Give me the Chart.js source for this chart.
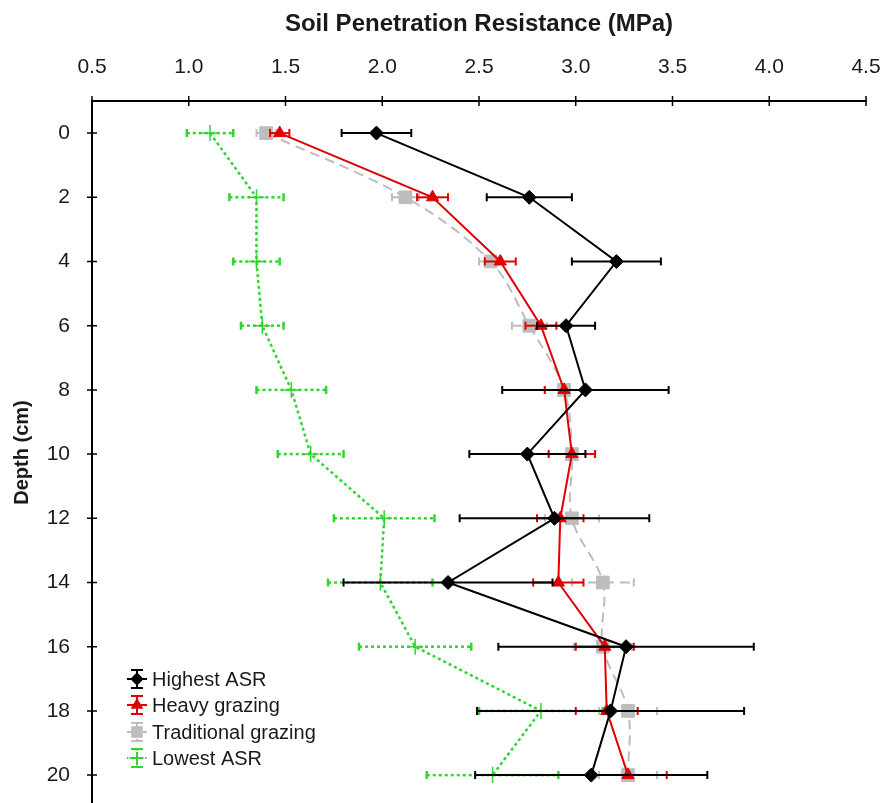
<!DOCTYPE html>
<html>
<head>
<meta charset="utf-8">
<script src="https://cdn.jsdelivr.net/npm/chart.js@4.4.1/dist/chart.umd.min.js"></script>
<style>
  html, body { margin: 0; padding: 0; background: #fff; overflow: hidden; height: 803px; }
  #chart { display: block; }
</style>
</head>
<body>
<canvas id="chart" width="883" height="814"></canvas>
<script>
// depth (cm) for every row
const depths = [0, 2, 4, 6, 8, 10, 12, 14, 16, 18, 20];
const xTicks = [0.5, 1.0, 1.5, 2.0, 2.5, 3.0, 3.5, 4.0, 4.5];

const seriesNames = ['Highest ASR', 'Heavy grazing', 'Traditional grazing', 'Lowest ASR'];

// soil penetration resistance (MPa) and its error
const highestASR = [1.97, 2.76, 3.21, 2.95, 3.05, 2.75, 2.89, 2.34, 3.26, 3.18, 3.08];
const highestErr = [0.18, 0.22, 0.23, 0.15, 0.43, 0.30, 0.49, 0.54, 0.66, 0.69, 0.60];
const heavyGrazing = [1.47, 2.26, 2.61, 2.82, 2.94, 2.98, 2.92, 2.91, 3.15, 3.16, 3.27];
const heavyErr = [0.05, 0.08, 0.08, 0.08, 0.10, 0.12, 0.12, 0.13, 0.15, 0.16, 0.20];
const traditionalGrazing = [1.40, 2.12, 2.56, 2.76, 2.94, 2.98, 2.98, 3.14, 3.14, 3.27, 3.27];
const traditionalErr = [0.05, 0.07, 0.06, 0.09, 0.10, 0.12, 0.14, 0.16, 0.15, 0.15, 0.15];
const lowestASR = [1.11, 1.35, 1.35, 1.38, 1.53, 1.63, 2.01, 1.99, 2.17, 2.82, 2.57];
const lowestErr = [0.12, 0.14, 0.12, 0.11, 0.18, 0.17, 0.26, 0.27, 0.29, 0.32, 0.34];

const styles = [
    { color: '#000000', dash: [], point: 'rectRot', radius: 7, width: 2, tension: 0 },
    { color: '#e00000', dash: [], point: 'triangle', radius: 7, width: 2, tension: 0 },
    { color: '#bdbdbd', dash: [10, 6], point: 'rect', radius: 9, width: 2, tension: 0.35 },
    { color: '#2fd62f', dash: [3, 3], point: 'cross', radius: 8, width: 2.5, tension: 0 }
];

const allValues = [highestASR, heavyGrazing, traditionalGrazing, lowestASR];
const allErrors = [highestErr, heavyErr, traditionalErr, lowestErr];

const datasets = seriesNames.map((name, s) => ({
    label: name,
    data: depths.map((d, i) => ({ x: allValues[s][i], y: d })),
    errors: allErrors[s],
    showLine: true,
    borderColor: styles[s].color,
    backgroundColor: styles[s].color,
    borderWidth: styles[s].width,
    borderDash: styles[s].dash,
    tension: styles[s].tension,
    pointStyle: styles[s].point,
    pointRadius: styles[s].radius,
    pointBackgroundColor: styles[s].color,
    pointBorderColor: styles[s].color,
    pointBorderWidth: s === 3 ? 1.5 : 1
}));

// horizontal error bars, drawn just under each series
const errorBars = {
    id: 'errorBars',
    beforeDatasetDraw(chart, args) {
        const ds = chart.data.datasets[args.index];
        const st = styles[args.index];
        const xs = chart.scales.x, ys = chart.scales.y;
        const ctx = chart.ctx;
        ctx.save();
        ctx.strokeStyle = st.color;
        ctx.lineWidth = st.width;
        ctx.setLineDash(st.dash);
        ds.data.forEach((p, i) => {
            const e = ds.errors[i];
            const x1 = xs.getPixelForValue(p.x - e);
            const x2 = xs.getPixelForValue(p.x + e);
            const y = ys.getPixelForValue(p.y);
            ctx.beginPath();
            ctx.moveTo(x1, y);
            ctx.lineTo(x2, y);
            ctx.stroke();
            ctx.setLineDash([]);
            ctx.beginPath();
            ctx.moveTo(x1, y - 4); ctx.lineTo(x1, y + 4);
            ctx.moveTo(x2, y - 4); ctx.lineTo(x2, y + 4);
            ctx.stroke();
            ctx.setLineDash(st.dash);
        });
        ctx.restore();
    }
};

// tick marks that cross the axis lines
const axisTicks = {
    id: 'axisTicks',
    afterDraw(chart) {
        const ctx = chart.ctx;
        const xs = chart.scales.x, ys = chart.scales.y;
        const top = chart.chartArea.top, left = chart.chartArea.left;
        ctx.save();
        ctx.strokeStyle = '#000';
        ctx.lineWidth = 1.5;
        ctx.beginPath();
        xTicks.forEach(v => {
            const x = xs.getPixelForValue(v);
            ctx.moveTo(x, top - 5); ctx.lineTo(x, top + 5);
        });
        depths.forEach(v => {
            const y = ys.getPixelForValue(v);
            ctx.moveTo(left - 5, y); ctx.lineTo(left + 5, y);
        });
        ctx.stroke();
        ctx.restore();
    }
};

// legend in the lower left corner, with error bar glyphs
const customLegend = {
    id: 'customLegend',
    afterDraw(chart) {
        const ctx = chart.ctx;
        const cx = 137, rows = [679, 705, 732, 758];
        ctx.save();
        seriesNames.forEach((name, s) => {
            const st = styles[s], y = rows[s];
            ctx.strokeStyle = st.color;
            ctx.fillStyle = st.color;
            ctx.lineWidth = 2;
            ctx.setLineDash(st.dash.length ? [st.dash[0] / 2, st.dash[1] / 2] : []);
            ctx.beginPath();
            ctx.moveTo(cx, y - 9); ctx.lineTo(cx, y + 9);
            ctx.moveTo(cx - 10, y); ctx.lineTo(cx + 10, y);
            ctx.stroke();
            ctx.setLineDash([]);
            ctx.beginPath();
            ctx.moveTo(cx - 6, y - 9); ctx.lineTo(cx + 6, y - 9);
            ctx.moveTo(cx - 6, y + 9); ctx.lineTo(cx + 6, y + 9);
            ctx.stroke();
            Chart.helpers.drawPoint(ctx, {
                pointStyle: st.point, radius: st.radius * 0.75, rotation: 0,
                borderWidth: s === 3 ? 1.5 : 1
            }, cx, y);
            ctx.fillStyle = '#1a1a1a';
            ctx.font = '20px "Liberation Sans", Arial, sans-serif';
            ctx.textBaseline = 'middle';
            ctx.textAlign = 'left';
            ctx.fillText(name, 152, y + 1);
        });
        ctx.restore();
    }
};

new Chart(document.getElementById('chart'), {
    type: 'scatter',
    data: { datasets },
    options: {
        responsive: false,
        animation: false,
        devicePixelRatio: 1,
        layout: { padding: { left: 0, right: 17, top: 0, bottom: 0 } },
        plugins: {
            legend: { display: false },
            tooltip: { enabled: false }
        },
        scales: {
            x: {
                type: 'linear',
                position: 'top',
                min: 0.5,
                max: 4.5,
                afterBuildTicks: scale => { scale.ticks = xTicks.map(v => ({ value: v })); },
                afterFit: scale => {
                    scale.height = 101;
                    scale.paddingLeft = 0;
                    scale.paddingRight = 0;
                },
                grid: { display: false, drawTicks: false },
                border: { display: true, color: '#000', width: 2 },
                ticks: {
                    color: '#1a1a1a',
                    padding: 21,
                    font: { family: '"Liberation Sans", Arial, sans-serif', size: 21 },
                    callback: v => v.toFixed(1)
                },
                title: {
                    display: true,
                    text: 'Soil Penetration Resistance (MPa)',
                    color: '#1a1a1a',
                    padding: { top: 10, bottom: 0 },
                    font: { family: '"Liberation Sans", Arial, sans-serif', size: 24, weight: 'bold' }
                }
            },
            y: {
                type: 'linear',
                reverse: true,
                min: -1,
                max: 20.9,
                afterBuildTicks: scale => { scale.ticks = depths.map(v => ({ value: v })); },
                afterFit: scale => {
                    scale.width = 92;
                    scale.paddingTop = 0;
                    scale.paddingBottom = 0;
                },
                grid: { display: false, drawTicks: false },
                border: { display: true, color: '#000', width: 2 },
                ticks: {
                    color: '#1a1a1a',
                    padding: 22,
                    font: { family: '"Liberation Sans", Arial, sans-serif', size: 21 }
                },
                title: {
                    display: true,
                    text: 'Depth (cm)',
                    color: '#1a1a1a',
                    padding: { top: 10, bottom: 0 },
                    font: { family: '"Liberation Sans", Arial, sans-serif', size: 20, weight: 'bold' }
                }
            }
        }
    },
    plugins: [errorBars, axisTicks, customLegend]
});
</script>
</body>
</html>
